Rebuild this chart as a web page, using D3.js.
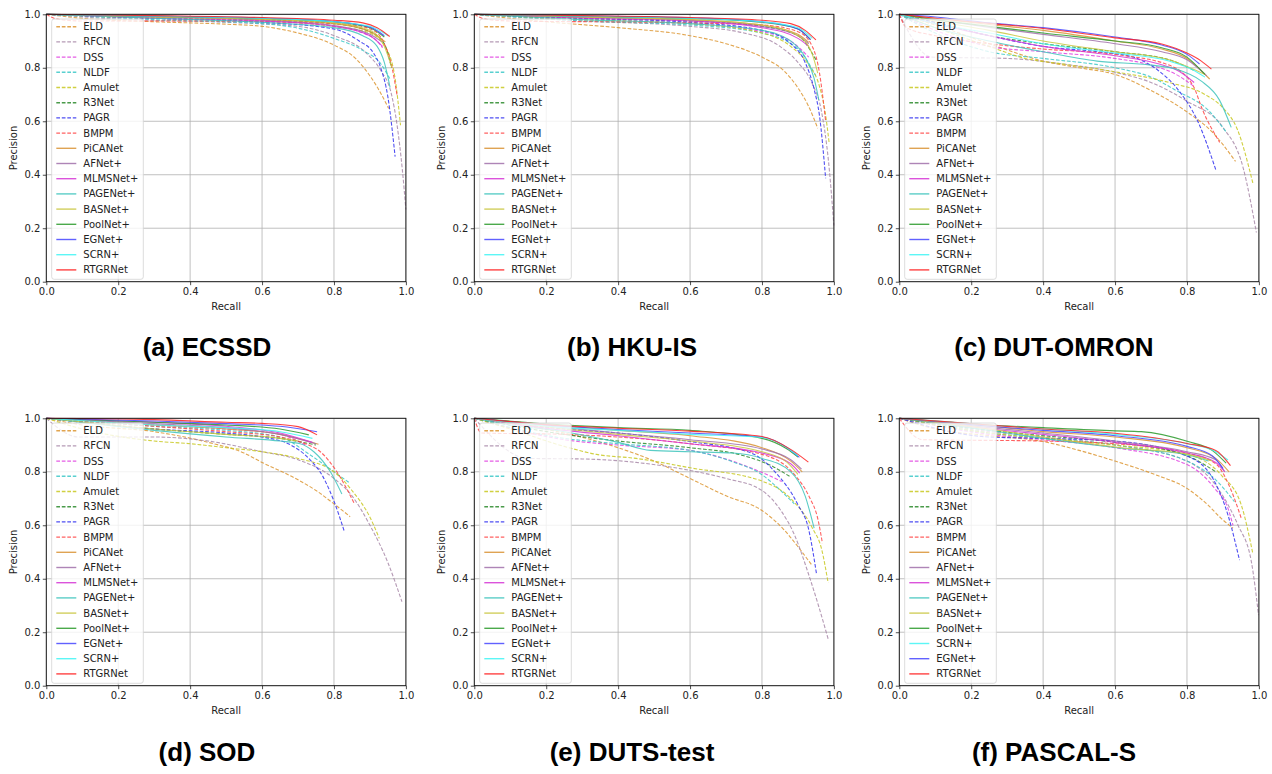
<!DOCTYPE html>
<html><head><meta charset="utf-8">
<script src="https://cdn.jsdelivr.net/npm/d3@7"></script>
<style>
body{margin:0;background:#fff;}
</style></head>
<body><svg id="chart" width="1272" height="774"></svg>
<script>
const methods = ["ELD","RFCN","DSS","NLDF","Amulet","R3Net","PAGR","BMPM","PiCANet","AFNet+","MLMSNet+","PAGENet+","BASNet+","PoolNet+","EGNet+","SCRN+","RTGRNet"];
const dashed = [true,true,true,true,true,true,true,true,false,false,false,false,false,false,false,false,false];
const colors = ["#dc9530","#a888a8","#e040e0","#3cc8c8","#c8c820","#2a8a2a","#3030f0","#ff4545","#d99335","#a070aa","#d535d5","#3ec4bc","#c9c640","#2c9a2c","#4545ff","#40f5f5","#ff2020"];
const titles = ["(a) ECSSD","(b) HKU-IS","(c) DUT-OMRON","(d) SOD","(e) DUTS-test","(f) PASCAL-S"];
const ticks = [0,0.2,0.4,0.6,0.8,1.0];
const legendOrderDefault = [0,1,2,3,4,5,6,7,8,9,10,11,12,13,14,15,16];
const legendOrderF = [0,1,2,3,4,5,6,7,8,9,10,11,12,13,15,14,16];

const ecssd = [
 [[0,1],[0.1,0.985],[0.3,0.972],[0.5,0.963],[0.6,0.955],[0.7,0.93],[0.8,0.885],[0.86,0.835],[0.9,0.77],[0.93,0.705],[0.952,0.648]],
 [[0,1],[0.2,0.982],[0.5,0.97],[0.7,0.955],[0.8,0.92],[0.89,0.855],[0.93,0.79],[0.96,0.70],[0.975,0.59],[0.99,0.42],[1.0,0.27]],
 [[0,1],[0.3,0.985],[0.6,0.975],[0.8,0.955],[0.88,0.93],[0.92,0.90],[0.935,0.875]],
 [[0,1],[0.3,0.98],[0.6,0.965],[0.7,0.948],[0.8,0.91],[0.88,0.865],[0.93,0.815],[0.955,0.76]],
 [[0,1],[0.3,0.985],[0.6,0.975],[0.8,0.955],[0.9,0.93],[0.95,0.86],[0.97,0.76],[0.985,0.585]],
 [[0,1],[0.3,0.99],[0.6,0.98],[0.8,0.965],[0.9,0.935],[0.94,0.89],[0.96,0.80]],
 [[0,1],[0.3,0.985],[0.6,0.97],[0.8,0.945],[0.87,0.90],[0.91,0.855],[0.93,0.80],[0.95,0.69],[0.97,0.468]],
 [[0,1],[0.03,0.982],[0.1,0.975],[0.4,0.975],[0.7,0.97],[0.85,0.96],[0.91,0.94],[0.94,0.89],[0.96,0.81],[0.975,0.70]],
 [[0,1],[0.3,0.99],[0.6,0.98],[0.8,0.965],[0.9,0.935],[0.943,0.897]],
 [[0,1],[0.3,0.99],[0.6,0.978],[0.8,0.958],[0.9,0.925],[0.935,0.895]],
 [[0,1],[0.3,0.985],[0.6,0.975],[0.8,0.955],[0.9,0.92],[0.935,0.88]],
 [[0,1],[0.3,0.985],[0.6,0.97],[0.8,0.95],[0.88,0.92],[0.92,0.88],[0.94,0.82],[0.956,0.727]],
 [[0,1],[0.3,0.99],[0.6,0.982],[0.8,0.968],[0.9,0.94],[0.94,0.88],[0.961,0.80]],
 [[0,1],[0.3,0.993],[0.6,0.985],[0.8,0.972],[0.9,0.95],[0.94,0.915]],
 [[0,1],[0.3,0.993],[0.6,0.986],[0.8,0.973],[0.9,0.952],[0.94,0.92]],
 [[0,1],[0.3,0.993],[0.6,0.985],[0.8,0.972],[0.9,0.955],[0.95,0.92]],
 [[0,1],[0.3,0.995],[0.6,0.988],[0.8,0.978],[0.88,0.968],[0.92,0.95],[0.955,0.917]]
];
const hkuis = [
 [[0,1],[0.1,0.985],[0.2,0.972],[0.4,0.95],[0.6,0.92],[0.7,0.89],[0.8,0.84],[0.86,0.79],[0.9,0.725],[0.93,0.655],[0.955,0.574]],
 [[0,1],[0.3,0.975],[0.6,0.955],[0.75,0.93],[0.85,0.88],[0.9,0.82],[0.94,0.74],[0.965,0.64],[0.985,0.45],[1.0,0.21]],
 [[0,1],[0.3,0.98],[0.6,0.965],[0.8,0.935],[0.88,0.9],[0.93,0.84]],
 [[0,1],[0.3,0.975],[0.6,0.96],[0.8,0.93],[0.9,0.87],[0.95,0.77]],
 [[0,1],[0.3,0.98],[0.6,0.965],[0.8,0.93],[0.88,0.88],[0.93,0.81],[0.96,0.73],[0.975,0.64],[0.987,0.517]],
 [[0,1],[0.3,0.985],[0.6,0.975],[0.8,0.955],[0.9,0.92],[0.95,0.83]],
 [[0,1],[0.3,0.985],[0.6,0.97],[0.8,0.94],[0.88,0.89],[0.92,0.82],[0.945,0.72],[0.96,0.62],[0.977,0.387]],
 [[0,1],[0.03,0.982],[0.1,0.975],[0.5,0.97],[0.8,0.96],[0.9,0.935],[0.94,0.88],[0.96,0.78],[0.977,0.60]],
 [[0,1],[0.3,0.99],[0.6,0.98],[0.8,0.96],[0.9,0.925],[0.93,0.895]],
 [[0,1],[0.3,0.988],[0.6,0.978],[0.8,0.955],[0.9,0.92],[0.93,0.89]],
 [[0,1],[0.3,0.985],[0.6,0.975],[0.8,0.95],[0.9,0.91],[0.93,0.88]],
 [[0,1],[0.3,0.98],[0.6,0.965],[0.8,0.94],[0.88,0.9],[0.92,0.84],[0.945,0.76],[0.958,0.68]],
 [[0,1],[0.3,0.99],[0.6,0.98],[0.8,0.96],[0.9,0.92],[0.94,0.85],[0.955,0.78]],
 [[0,1],[0.3,0.993],[0.6,0.985],[0.8,0.97],[0.9,0.945],[0.935,0.905]],
 [[0,1],[0.3,0.994],[0.6,0.987],[0.8,0.972],[0.9,0.945],[0.935,0.905]],
 [[0,1],[0.3,0.993],[0.6,0.985],[0.8,0.972],[0.9,0.95],[0.94,0.91]],
 [[0,1],[0.3,0.995],[0.6,0.988],[0.8,0.978],[0.88,0.965],[0.92,0.94],[0.95,0.904]]
];
const dutomron = [
 [[0,1],[0.1,0.96],[0.25,0.89],[0.4,0.825],[0.5,0.8],[0.6,0.775],[0.7,0.715],[0.8,0.635],[0.87,0.56],[0.935,0.45]],
 [[0,1],[0.09,0.84],[0.3,0.835],[0.45,0.815],[0.6,0.783],[0.7,0.745],[0.8,0.675],[0.9,0.577],[0.956,0.427],[0.993,0.184]],
 [[0,1],[0.1,0.94],[0.25,0.88],[0.4,0.86],[0.6,0.835],[0.7,0.81],[0.77,0.775],[0.82,0.73]],
 [[0,1],[0.1,0.93],[0.25,0.86],[0.4,0.835],[0.6,0.8],[0.7,0.765],[0.77,0.715],[0.86,0.64],[0.91,0.558]],
 [[0,1],[0.1,0.95],[0.25,0.88],[0.35,0.835],[0.45,0.815],[0.6,0.785],[0.75,0.745],[0.85,0.7],[0.9,0.65],[0.94,0.57],[0.983,0.37]],
 [[0,1],[0.1,0.97],[0.25,0.92],[0.4,0.89],[0.6,0.86],[0.75,0.83],[0.82,0.79]],
 [[0,1],[0.1,0.97],[0.25,0.92],[0.4,0.88],[0.55,0.86],[0.65,0.84],[0.72,0.79],[0.78,0.71],[0.83,0.6],[0.881,0.415]],
 [[0,1],[0.02,0.95],[0.1,0.92],[0.25,0.89],[0.4,0.87],[0.6,0.85],[0.75,0.81],[0.817,0.733],[0.844,0.64],[0.891,0.521]],
 [[0,1],[0.1,0.985],[0.25,0.962],[0.4,0.94],[0.6,0.9],[0.73,0.87],[0.8,0.835],[0.863,0.758]],
 [[0,1],[0.1,0.98],[0.25,0.951],[0.4,0.925],[0.6,0.89],[0.73,0.86],[0.8,0.83],[0.855,0.77]],
 [[0,1],[0.1,0.965],[0.25,0.92],[0.4,0.88],[0.6,0.845],[0.72,0.815],[0.78,0.785],[0.82,0.745]],
 [[0,1],[0.1,0.95],[0.25,0.9],[0.4,0.86],[0.55,0.825],[0.7,0.81],[0.77,0.795],[0.84,0.75],[0.89,0.68],[0.923,0.577]],
 [[0,1],[0.1,0.975],[0.25,0.94],[0.4,0.9],[0.6,0.86],[0.75,0.83],[0.85,0.775]],
 [[0,1],[0.1,0.98],[0.25,0.955],[0.4,0.93],[0.6,0.9],[0.73,0.875],[0.8,0.84],[0.85,0.775]],
 [[0,1],[0.1,0.99],[0.25,0.968],[0.4,0.95],[0.6,0.915],[0.73,0.885],[0.8,0.85],[0.835,0.814]],
 [[0,1],[0.1,0.965],[0.25,0.93],[0.4,0.89],[0.6,0.855],[0.75,0.825],[0.82,0.79],[0.85,0.765]],
 [[0,1],[0.1,0.985],[0.25,0.966],[0.4,0.947],[0.6,0.912],[0.73,0.889],[0.8,0.855],[0.84,0.825],[0.868,0.795]]
];
const sod = [
 [[0,1],[0.1,0.975],[0.3,0.95],[0.45,0.91],[0.55,0.87],[0.6,0.835],[0.7,0.77],[0.75,0.73],[0.8,0.68],[0.845,0.632]],
 [[0,1],[0.09,0.93],[0.3,0.93],[0.45,0.915],[0.6,0.875],[0.7,0.845],[0.8,0.775],[0.85,0.71],[0.9,0.6],[0.95,0.46],[0.989,0.314]],
 [[0,1],[0.3,0.975],[0.5,0.96],[0.65,0.94],[0.72,0.9]],
 [[0,1],[0.3,0.97],[0.5,0.955],[0.65,0.93],[0.734,0.863],[0.8,0.8],[0.845,0.757]],
 [[0,1],[0.1,0.96],[0.3,0.915],[0.4,0.905],[0.5,0.89],[0.6,0.875],[0.7,0.85],[0.8,0.8],[0.85,0.73],[0.9,0.63],[0.926,0.551]],
 [[0,1],[0.3,0.96],[0.5,0.94],[0.65,0.925],[0.75,0.9]],
 [[0,1],[0.3,0.96],[0.5,0.945],[0.6,0.93],[0.68,0.9],[0.73,0.85],[0.77,0.78],[0.8,0.69],[0.829,0.576]],
 [[0,1],[0.3,0.97],[0.5,0.95],[0.65,0.93],[0.72,0.905],[0.762,0.875],[0.808,0.8],[0.857,0.68]],
 [[0,1],[0.3,0.975],[0.5,0.96],[0.65,0.94],[0.757,0.903]],
 [[0,1],[0.3,0.98],[0.5,0.965],[0.65,0.94],[0.75,0.905]],
 [[0,1],[0.3,0.985],[0.5,0.97],[0.65,0.945],[0.74,0.91]],
 [[0,1],[0.3,0.955],[0.5,0.93],[0.65,0.915],[0.706,0.905],[0.744,0.875],[0.79,0.8],[0.822,0.717]],
 [[0,1],[0.3,0.96],[0.5,0.94],[0.65,0.925],[0.7,0.915]],
 [[0,1],[0.3,0.985],[0.5,0.975],[0.65,0.96],[0.73,0.938]],
 [[0,1],[0.3,0.99],[0.5,0.98],[0.65,0.97],[0.753,0.95]],
 [[0,1],[0.3,0.975],[0.5,0.965],[0.65,0.95],[0.74,0.925]],
 [[0,1],[0.3,0.995],[0.5,0.985],[0.6,0.981],[0.7,0.969],[0.753,0.938]]
];
const dutstest = [
 [[0,1],[0.1,0.98],[0.25,0.945],[0.4,0.89],[0.5,0.84],[0.6,0.775],[0.7,0.71],[0.8,0.655],[0.86,0.585],[0.9,0.52],[0.938,0.452]],
 [[0,1],[0.15,0.85],[0.3,0.848],[0.45,0.835],[0.6,0.805],[0.7,0.775],[0.8,0.73],[0.85,0.66],[0.89,0.565],[0.93,0.415],[0.957,0.3],[0.984,0.175]],
 [[0,1],[0.25,0.92],[0.4,0.9],[0.6,0.88],[0.77,0.814],[0.855,0.764]],
 [[0,1],[0.25,0.925],[0.4,0.905],[0.6,0.88],[0.715,0.839],[0.8,0.789],[0.855,0.726],[0.89,0.68]],
 [[0,1],[0.1,0.96],[0.25,0.895],[0.34,0.865],[0.45,0.85],[0.6,0.815],[0.8,0.765],[0.88,0.7],[0.94,0.59],[0.966,0.51],[0.984,0.384]],
 [[0,1],[0.25,0.94],[0.4,0.915],[0.6,0.89],[0.75,0.86],[0.83,0.82],[0.88,0.78]],
 [[0,1],[0.25,0.96],[0.4,0.945],[0.6,0.913],[0.77,0.87],[0.836,0.8],[0.9,0.677],[0.929,0.589],[0.952,0.415]],
 [[0,1],[0.02,0.945],[0.25,0.94],[0.4,0.93],[0.6,0.905],[0.8,0.865],[0.89,0.79],[0.93,0.71],[0.957,0.614],[0.968,0.533]],
 [[0,1],[0.25,0.97],[0.4,0.955],[0.6,0.935],[0.8,0.89],[0.88,0.84],[0.912,0.8]],
 [[0,1],[0.25,0.965],[0.4,0.945],[0.6,0.92],[0.8,0.885],[0.88,0.845],[0.91,0.81]],
 [[0,1],[0.25,0.955],[0.4,0.935],[0.6,0.905],[0.8,0.87],[0.88,0.83],[0.905,0.795]],
 [[0,1],[0.1,0.975],[0.25,0.95],[0.4,0.91],[0.49,0.88],[0.6,0.875],[0.72,0.87],[0.8,0.85],[0.88,0.8],[0.92,0.71],[0.945,0.589]],
 [[0,1],[0.25,0.96],[0.4,0.94],[0.6,0.915],[0.8,0.875],[0.87,0.835],[0.9,0.79]],
 [[0,1],[0.25,0.975],[0.4,0.965],[0.6,0.955],[0.8,0.925],[0.87,0.885],[0.9,0.855]],
 [[0,1],[0.25,0.97],[0.4,0.958],[0.6,0.945],[0.8,0.93],[0.87,0.89],[0.904,0.854]],
 [[0,1],[0.25,0.965],[0.4,0.955],[0.6,0.94],[0.8,0.928],[0.87,0.89],[0.9,0.86]],
 [[0,1],[0.25,0.972],[0.4,0.963],[0.6,0.952],[0.8,0.932],[0.882,0.882],[0.929,0.836]]
];
const pascals = [
 [[0,1],[0.1,0.96],[0.25,0.935],[0.4,0.913],[0.5,0.88],[0.6,0.84],[0.71,0.79],[0.8,0.738],[0.858,0.676],[0.895,0.626],[0.928,0.589]],
 [[0,1],[0.25,0.95],[0.4,0.93],[0.6,0.9],[0.8,0.84],[0.895,0.72],[0.942,0.6],[0.979,0.464],[0.999,0.264]],
 [[0,1],[0.25,0.94],[0.4,0.92],[0.6,0.89],[0.803,0.825],[0.877,0.738],[0.914,0.663],[0.928,0.6]],
 [[0,1],[0.25,0.945],[0.4,0.925],[0.6,0.9],[0.8,0.84],[0.88,0.77],[0.932,0.688]],
 [[0,1],[0.25,0.945],[0.4,0.925],[0.6,0.9],[0.8,0.865],[0.895,0.788],[0.951,0.676],[0.983,0.495]],
 [[0,1],[0.25,0.955],[0.4,0.935],[0.6,0.91],[0.8,0.86],[0.88,0.8]],
 [[0,1],[0.25,0.93],[0.4,0.925],[0.6,0.915],[0.803,0.857],[0.877,0.763],[0.914,0.638],[0.946,0.47]],
 [[0,1],[0.065,0.92],[0.4,0.915],[0.6,0.905],[0.8,0.87],[0.88,0.83],[0.92,0.74],[0.951,0.626]],
 [[0,1],[0.25,0.97],[0.4,0.95],[0.6,0.93],[0.8,0.89],[0.88,0.85],[0.917,0.8]],
 [[0,1],[0.25,0.965],[0.4,0.945],[0.6,0.915],[0.8,0.875],[0.88,0.845],[0.905,0.8]],
 [[0,1],[0.25,0.96],[0.4,0.94],[0.6,0.91],[0.8,0.87],[0.88,0.835],[0.905,0.8]],
 [[0,1],[0.25,0.955],[0.4,0.925],[0.618,0.888],[0.803,0.863],[0.86,0.84]],
 [[0,1],[0.25,0.96],[0.4,0.93],[0.618,0.89],[0.803,0.865],[0.87,0.84]],
 [[0,1],[0.25,0.975],[0.4,0.965],[0.6,0.953],[0.673,0.95],[0.803,0.913],[0.87,0.88],[0.909,0.832]],
 [[0,1],[0.25,0.97],[0.4,0.955],[0.6,0.935],[0.8,0.895],[0.87,0.86],[0.9,0.813]],
 [[0,1],[0.25,0.975],[0.4,0.96],[0.6,0.94],[0.8,0.905],[0.88,0.875],[0.914,0.844]],
 [[0,1],[0.25,0.975],[0.4,0.96],[0.6,0.944],[0.8,0.906],[0.88,0.88],[0.921,0.823]]
];

const panels = [
 {data: ecssd, title: titles[0], legend: legendOrderDefault},
 {data: hkuis, title: titles[1], legend: legendOrderDefault},
 {data: dutomron, title: titles[2], legend: legendOrderDefault},
 {data: sod, title: titles[3], legend: legendOrderDefault},
 {data: dutstest, title: titles[4], legend: legendOrderDefault},
 {data: pascals, title: titles[5], legend: legendOrderF}
];

const svg = d3.select("#chart");
svg.append("rect").attr("width",1272).attr("height",774).attr("fill","#fff");

const colLeft = [46.3, 474.3, 899.3];
const rowTop = [14.3, 418.3];
const titleX = [207, 632, 1054];
const titleY = [347, 752];
const W = 359.6, H = 267.4;
const SANS = "'DejaVu Sans', sans-serif";

panels.forEach((p, idx) => {
  const c = idx % 3, r = Math.floor(idx / 3);
  const g = svg.append("g").attr("transform", `translate(${colLeft[c]},${rowTop[r]})`);
  const x = d3.scaleLinear().domain([0,1]).range([0,W]);
  const y = d3.scaleLinear().domain([0,1]).range([H,0]);

  g.append("g").selectAll("line").data(ticks).join("line")
    .attr("x1", d=>x(d)).attr("x2", d=>x(d)).attr("y1",0).attr("y2",H)
    .attr("stroke","#b0b0b0").attr("stroke-width",0.8);
  g.append("g").selectAll("line").data(ticks).join("line")
    .attr("y1", d=>y(d)).attr("y2", d=>y(d)).attr("x1",0).attr("x2",W)
    .attr("stroke","#b0b0b0").attr("stroke-width",0.8);

  const defs = svg.append("defs");
  const clipId = "clip" + idx;
  defs.append("clipPath").attr("id", clipId).append("rect").attr("x",0).attr("y",-1).attr("width",W+1).attr("height",H+1);
  const line = d3.line().x(d=>x(d[0])).y(d=>y(d[1])).curve(d3.curveMonotoneX);
  const cg = g.append("g").attr("clip-path", `url(#${clipId})`);
  p.data.forEach((pts, i) => {
    cg.append("path").attr("d", line(pts)).attr("fill","none")
      .attr("stroke", colors[i]).attr("stroke-width",1.1).attr("stroke-opacity",0.85)
      .attr("stroke-dasharray", dashed[i] ? "3.7,1.8" : null);
  });

  const xa = d3.axisBottom(x).tickValues(ticks).tickFormat(d3.format(".1f")).tickSize(3.5).tickPadding(2.5);
  const ya = d3.axisLeft(y).tickValues(ticks).tickFormat(d3.format(".1f")).tickSize(3.5).tickPadding(2.5);
  const gx = g.append("g").attr("transform", `translate(0,${H})`).call(xa);
  const gy = g.append("g").call(ya);
  [gx, gy].forEach(a => {
    a.attr("font-family", null).attr("font-size", null);
    a.select(".domain").remove();
    a.selectAll("text").style("font-family", SANS).style("font-size","10px").attr("fill","#222");
    a.selectAll("line").attr("stroke","#222").attr("stroke-width",0.8);
  });
  g.append("rect").attr("x",0).attr("y",0).attr("width",W).attr("height",H)
    .attr("fill","none").attr("stroke","#111").attr("stroke-width",0.9);

  const lg = g.append("g").attr("transform","translate(5.4,4.7)");
  lg.append("rect").attr("width",91.6).attr("height",260.3).attr("rx",2.5)
    .attr("fill","#fff").attr("fill-opacity",0.8).attr("stroke","#d3d3d3").attr("stroke-width",0.8);
  p.legend.forEach((mi, k) => {
    const yy = 7.7 + k * 15.2;
    lg.append("line").attr("x1",4.6).attr("x2",24.6).attr("y1",yy).attr("y2",yy)
      .attr("stroke", colors[mi]).attr("stroke-width",1.4).attr("stroke-opacity",0.85)
      .attr("stroke-dasharray", dashed[mi] ? "3.7,1.8" : null);
    lg.append("text").attr("x",31.6).attr("y",yy).attr("dy","0.35em")
      .style("font-family", SANS).style("font-size","10px").attr("fill","#222").text(methods[mi]);
  });

  g.append("text").attr("x", W/2).attr("y", H + 28).attr("text-anchor","middle")
    .style("font-family", SANS).style("font-size","10px").attr("fill","#222").text("Recall");
  g.append("text").attr("transform", `translate(${-29},${H/2}) rotate(-90)`)
    .attr("text-anchor","middle").style("font-family", SANS).style("font-size","10px").attr("fill","#222").text("Precision");

  svg.append("text").attr("x", titleX[c]).attr("y", titleY[r]).attr("dy","0.35em")
    .attr("text-anchor","middle")
    .style("font-family","'Liberation Sans', Arial, sans-serif")
    .style("font-weight","bold").style("font-size","26px").attr("fill","#000").text(p.title);
});
</script></body></html>
